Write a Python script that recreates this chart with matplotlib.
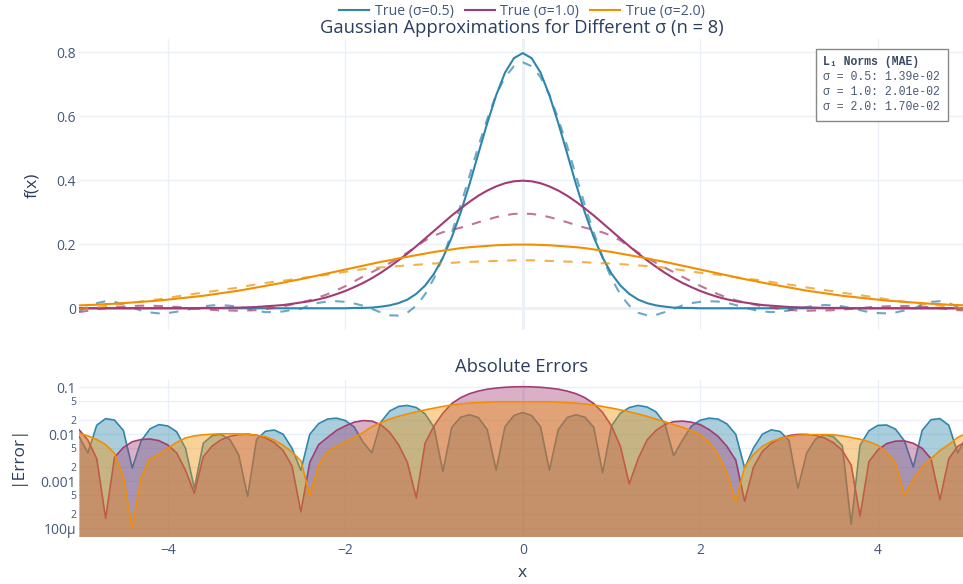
import numpy
from matplotlib import pyplot
from matplotlib.lines import Line2D
from matplotlib.patches import Rectangle
from matplotlib.ticker import FixedLocator, NullLocator

pyplot.rcParams['font.family'] = ['Open Sans', 'DejaVu Sans']

# Rejilla de x compartida por todas las curvas
x = numpy.round(numpy.linspace(-5, 5, 101), 1)

# Curvas verdaderas (simétricas): valores de x = 0.0 ... 5.0
true_05_half = [0.798, 0.782, 0.737, 0.666, 0.579, 0.484, 0.388, 0.299, 0.222, 0.158,
                0.108, 0.071, 0.045, 0.027, 0.016, 0.009, 0.005, 0.002, 0.001, 0.001] + [0.0] * 31
true_10_half = [0.399, 0.397, 0.391, 0.381, 0.368, 0.352, 0.333, 0.312, 0.290, 0.266,
                0.242, 0.218, 0.194, 0.171, 0.150, 0.130, 0.111, 0.094, 0.079, 0.066,
                0.054, 0.044, 0.035, 0.028, 0.022, 0.018, 0.014, 0.010, 0.008, 0.006,
                0.004, 0.003, 0.002, 0.002, 0.001, 0.001, 0.001] + [0.0] * 14
true_20_half = [0.199, 0.199, 0.198, 0.197, 0.195, 0.193, 0.191, 0.188, 0.184, 0.180,
                0.176, 0.171, 0.166, 0.161, 0.156, 0.150, 0.145, 0.139, 0.133, 0.127,
                0.121, 0.115, 0.109, 0.103, 0.097, 0.091, 0.086, 0.080, 0.075, 0.070,
                0.065, 0.060, 0.055, 0.051, 0.047, 0.043, 0.039, 0.036, 0.033, 0.030,
                0.027, 0.024, 0.022, 0.020, 0.018, 0.016, 0.014, 0.013, 0.011, 0.010, 0.009]

# Aproximaciones (n = 8), x = -5.0 ... 5.0
approx_05 = [-0.009, 0.004, 0.016, 0.022, 0.020, 0.012, 0.002, -0.007, -0.013, -0.016,
             -0.015, -0.011, -0.005, -0.001, 0.006, 0.009, 0.010, 0.008, 0.004, 0.000,
             -0.008, -0.012, -0.012, -0.010, -0.005, -0.002, 0.010, 0.017, 0.021, 0.022,
             0.020, 0.015, 0.008, -0.002, -0.013, -0.022, -0.023, -0.014, 0.008, 0.044,
             0.094, 0.160, 0.236, 0.322, 0.414, 0.507, 0.592, 0.668, 0.723, 0.757,
             0.769,
             0.757, 0.723, 0.668, 0.592, 0.507, 0.414, 0.322, 0.236, 0.160, 0.093,
             0.043, 0.008, -0.014, -0.022, -0.021, -0.012, -0.002, 0.009, 0.016, 0.020,
             0.022, 0.021, 0.017, 0.010, 0.002, -0.005, -0.010, -0.012, -0.011, -0.007,
             -0.001, 0.004, 0.008, 0.010, 0.009, 0.006, 0.000, -0.006, -0.012, -0.015,
             -0.016, -0.013, -0.007, -0.002, 0.012, 0.020, 0.022, 0.016, 0.004, -0.009]
approx_10 = [-0.012, -0.008, -0.003, 0.000, 0.003, 0.005, 0.007, 0.008, 0.008, 0.007,
             0.006, 0.004, 0.002, -0.001, -0.002, -0.005, -0.007, -0.007, -0.008, -0.007,
             -0.006, -0.002, 0.001, 0.006, 0.012, 0.018, 0.025, 0.034, 0.044, 0.056,
             0.069, 0.084, 0.099, 0.113, 0.127, 0.141, 0.156, 0.174, 0.194, 0.212,
             0.227, 0.238, 0.245, 0.252, 0.260, 0.269, 0.277, 0.285, 0.291, 0.295,
             0.296,
             0.295, 0.291, 0.285, 0.277, 0.269, 0.260, 0.252, 0.245, 0.237, 0.227,
             0.212, 0.193, 0.174, 0.158, 0.142, 0.127, 0.113, 0.098, 0.084, 0.070,
             0.057, 0.044, 0.034, 0.025, 0.018, 0.012, 0.006, 0.002, -0.002, -0.005,
             -0.007, -0.008, -0.007, -0.007, -0.006, -0.004, -0.002, 0.000, 0.003, 0.005,
             0.006, 0.007, 0.007, 0.006, 0.005, 0.003, 0.000, -0.003, -0.006, -0.007]
approx_20 = [-0.002, 0.001, 0.003, 0.007, 0.010, 0.015, 0.018, 0.021, 0.025, 0.028,
             0.032, 0.037, 0.041, 0.045, 0.049, 0.053, 0.057, 0.061, 0.065, 0.070,
             0.075, 0.079, 0.083, 0.086, 0.090, 0.094, 0.098, 0.101, 0.105, 0.110,
             0.114, 0.119, 0.122, 0.125, 0.128, 0.129, 0.132, 0.134, 0.136, 0.138,
             0.140, 0.141, 0.142, 0.144, 0.145, 0.146, 0.147, 0.148, 0.149, 0.150,
             0.150,
             0.150, 0.149, 0.148, 0.147, 0.146, 0.145, 0.144, 0.142, 0.141, 0.140,
             0.138, 0.136, 0.134, 0.132, 0.129, 0.127, 0.123, 0.119, 0.115, 0.111,
             0.108, 0.105, 0.101, 0.097, 0.093, 0.090, 0.086, 0.082, 0.078, 0.074,
             0.070, 0.065, 0.061, 0.057, 0.053, 0.048, 0.045, 0.041, 0.037, 0.033,
             0.028, 0.024, 0.020, 0.017, 0.014, 0.011, 0.008, 0.005, 0.002, -0.002]

# Errores absolutos, x = -5.0 ... 5.0
error_05 = [0.009, 0.004, 0.0155, 0.0215, 0.020, 0.012, 0.0019, 0.0072, 0.013, 0.016,
            0.015, 0.0113, 0.005, 0.0007, 0.0064, 0.0093, 0.0099, 0.0077, 0.0036, 0.00047,
            0.0077, 0.0115, 0.0123, 0.010, 0.005, 0.0017, 0.0099, 0.0168, 0.021, 0.022,
            0.0196, 0.0143, 0.0068, 0.004, 0.018, 0.031, 0.039, 0.041, 0.037, 0.027,
            0.014, 0.0016, 0.014, 0.023, 0.026, 0.0226, 0.0125, 0.0017, 0.0145, 0.025,
            0.029,
            0.025, 0.0145, 0.0017, 0.0125, 0.0226, 0.026, 0.023, 0.014, 0.0015, 0.015,
            0.028, 0.037, 0.041, 0.038, 0.030, 0.017, 0.0035, 0.0075, 0.0148, 0.0199,
            0.022, 0.021, 0.0166, 0.0099, 0.0019, 0.0051, 0.010, 0.0124, 0.0114, 0.0073,
            0.0007, 0.004, 0.0079, 0.0097, 0.0089, 0.0057, 0.00012, 0.0058, 0.0118, 0.0154,
            0.0157, 0.0128, 0.0072, 0.002, 0.012, 0.0204, 0.0215, 0.0155, 0.004, 0.009]
error_10 = [0.0125, 0.0075, 0.003, 0.00016, 0.0032, 0.0052, 0.0069, 0.0077, 0.0079, 0.0073,
            0.0059, 0.004, 0.0017, 0.00055, 0.0033, 0.0056, 0.0076, 0.009, 0.0098, 0.010,
            0.0095, 0.0084, 0.0066, 0.0045, 0.0021, 0.00022, 0.0025, 0.006, 0.0085, 0.012,
            0.015, 0.018, 0.0195, 0.019, 0.016, 0.011, 0.006, 0.0025, 0.00044, 0.0065,
            0.015, 0.028, 0.045, 0.060, 0.073, 0.083, 0.091, 0.096, 0.100, 0.102,
            0.103,
            0.102, 0.100, 0.096, 0.091, 0.083, 0.073, 0.060, 0.045, 0.029, 0.015,
            0.0055, 0.00087, 0.003, 0.0075, 0.012, 0.016, 0.0185, 0.019, 0.018, 0.016,
            0.0125, 0.009, 0.0055, 0.0028, 0.00037, 0.002, 0.0043, 0.0064, 0.0081, 0.0093,
            0.0099, 0.0099, 0.0094, 0.0083, 0.0066, 0.0045, 0.0022, 0.00018, 0.0026, 0.0046,
            0.0063, 0.0071, 0.0072, 0.0064, 0.005, 0.003, 0.0004, 0.003, 0.0055, 0.007]
error_20 = [0.0105, 0.0092, 0.0077, 0.006, 0.0039, 0.0012, 0.0001, 0.0012, 0.003, 0.0037,
            0.005, 0.0067, 0.0083, 0.0092, 0.0097, 0.010, 0.0102, 0.0102, 0.0101, 0.0099,
            0.0095, 0.0089, 0.0075, 0.0058, 0.0042, 0.0027, 0.0005, 0.0022, 0.0042, 0.0055,
            0.0068, 0.0085, 0.0108, 0.0145, 0.0175, 0.021, 0.024, 0.027, 0.030, 0.033,
            0.036, 0.039, 0.042, 0.044, 0.046, 0.047, 0.048, 0.049, 0.049, 0.049,
            0.049,
            0.049, 0.049, 0.049, 0.048, 0.047, 0.046, 0.044, 0.042, 0.039, 0.036,
            0.033, 0.030, 0.027, 0.024, 0.021, 0.0185, 0.016, 0.014, 0.0118, 0.0097,
            0.0068, 0.0037, 0.0015, 0.00037, 0.002, 0.0037, 0.0055, 0.007, 0.0081, 0.0089,
            0.0095, 0.0097, 0.0098, 0.0098, 0.0097, 0.0092, 0.0085, 0.0078, 0.0069, 0.0058,
            0.0041, 0.0024, 0.0005, 0.0011, 0.002, 0.003, 0.0045, 0.006, 0.0085, 0.0105]

sigmas = ['0.5', '1.0', '2.0']
mae = [1.39e-02, 2.01e-02, 1.70e-02]
colors = ['#2E86AB', '#A23B72', '#F18F01']


def mirror(half):
    half = numpy.array(half)
    return numpy.concatenate([half[:0:-1], half])


true_curves = [mirror(true_05_half), mirror(true_10_half), mirror(true_20_half)]
approx_curves = [approx_05, approx_10, approx_20]
error_curves = [error_05, error_10, error_20]

# Geometría en píxeles de la figura original
W, H = 963, 584
text_color = '#2a3f5f'
tick_color = '#43587a'
grid_color = '#EBF0F8'


def box(left, top, right, bottom):
    return [left / W, 1 - bottom / H, (right - left) / W, (bottom - top) / H]


fig = pyplot.figure(figsize=(W / 100, H / 100), dpi=100)
ax1 = fig.add_axes(box(79, 39, 963, 330))
ax2 = fig.add_axes(box(79, 380, 963, 536))

for ax in (ax1, ax2):
    for spine in ax.spines.values():
        spine.set_visible(False)
    ax.set_xlim(-5, 4.96)
    ax.set_xticks([-4, -2, 0, 2, 4])
    ax.tick_params(length=0, labelsize=10, labelcolor=tick_color, pad=2)
    ax.grid(True, color=grid_color, linewidth=1)
    ax.set_axisbelow(True)
    ax.axvline(0, color=grid_color, linewidth=2, zorder=0.6)

# Panel superior: funciones
ax1.tick_params(axis='x', labelbottom=False)
ax1.axhline(0, color=grid_color, linewidth=2, zorder=0.6)
ax1.set_ylim(-0.068, 0.842)
ax1.set_yticks([0, 0.2, 0.4, 0.6, 0.8])
ax1.set_yticklabels(['0', '0.2', '0.4', '0.6', '0.8'])
for true, approx, c in zip(true_curves, approx_curves, colors):
    ax1.plot(x, true, color=c, linewidth=1.5, zorder=3)
    ax1.plot(x, approx, color=c, linewidth=1.5, alpha=0.7, dashes=(4.5, 4.5), zorder=3)

# Panel inferior: errores absolutos en escala log
ax2.set_yscale('log')
ax2.set_ylim(6.76e-5, 0.143)
for i, (err, c) in enumerate(zip(error_curves, colors)):
    ax2.fill_between(x, err, 1e-6, color=c, alpha=0.4, linewidth=0, zorder=2 + 2 * i)
    ax2.plot(x, err, color=c, linewidth=1.2, zorder=3 + 2 * i)

log_ticks = [1e-4, 2e-4, 5e-4, 1e-3, 2e-3, 5e-3, 1e-2, 2e-2, 5e-2, 1e-1]
log_labels = ['100µ', '2', '5', '0.001', '2', '5', '0.01', '2', '5', '0.1']
ax2.yaxis.set_major_locator(FixedLocator(log_ticks))
ax2.yaxis.set_minor_locator(NullLocator())
ax2.set_yticklabels(log_labels)
for lbl in ax2.get_yticklabels():
    if lbl.get_text() in ('2', '5'):
        lbl.set_fontsize(7.5)
ax2.tick_params(axis='x', pad=5)

# Títulos y etiquetas
fig.text(522 / W, 1 - 28 / H, 'Gaussian Approximations for Different σ (n = 8)',
         ha='center', va='center', fontsize=13.2, color=text_color)
fig.text(522 / W, 1 - 367 / H, 'Absolute Errors',
         ha='center', va='center', fontsize=13.2, color=text_color)
fig.text(32 / W, 1 - 185 / H, 'f(x)', rotation=90, ha='center', va='center',
         fontsize=12.5, color=text_color)
fig.text(17 / W, 1 - 455 / H, '|Error|', rotation=90, ha='center', va='center',
         fontsize=12.5, color=text_color)
fig.text(522 / W, 1 - 573 / H, 'x', ha='center', va='center',
         fontsize=12.5, color=text_color)

# Leyenda horizontal
handles = [Line2D([], [], color=c, linewidth=1.5) for c in colors]
fig.legend(handles, [f'True (σ={s})' for s in sigmas], loc='center',
           bbox_to_anchor=(522 / W, 1 - 11 / H), ncol=3, frameon=False, fontsize=10.2,
           handlelength=2.1, handletextpad=0.4, columnspacing=0.8, labelcolor=tick_color,
           borderpad=0)

# Recuadro con las normas L1
mono = ['Liberation Mono', 'DejaVu Sans Mono']
rect = Rectangle((816 / W, 1 - 121 / H), 132 / W, 72 / H, transform=fig.transFigure,
                 facecolor='white', edgecolor='#888888', linewidth=1, zorder=10)
fig.add_artist(rect)
fig.text(823 / W, 1 - 62 / H, 'L₁ Norms (MAE)', family=mono, fontweight='bold',
         fontsize=8.3, va='center', color='#3a4a64', zorder=11)
for k, (s, v) in enumerate(zip(sigmas, mae)):
    fig.text(823 / W, 1 - (77 + 15 * k) / H, f'σ = {s}: {v:.2e}', family=mono,
             fontsize=8.3, va='center', color='#4a5a74', zorder=11)

pyplot.savefig('out.png', dpi=100)
pyplot.close()
